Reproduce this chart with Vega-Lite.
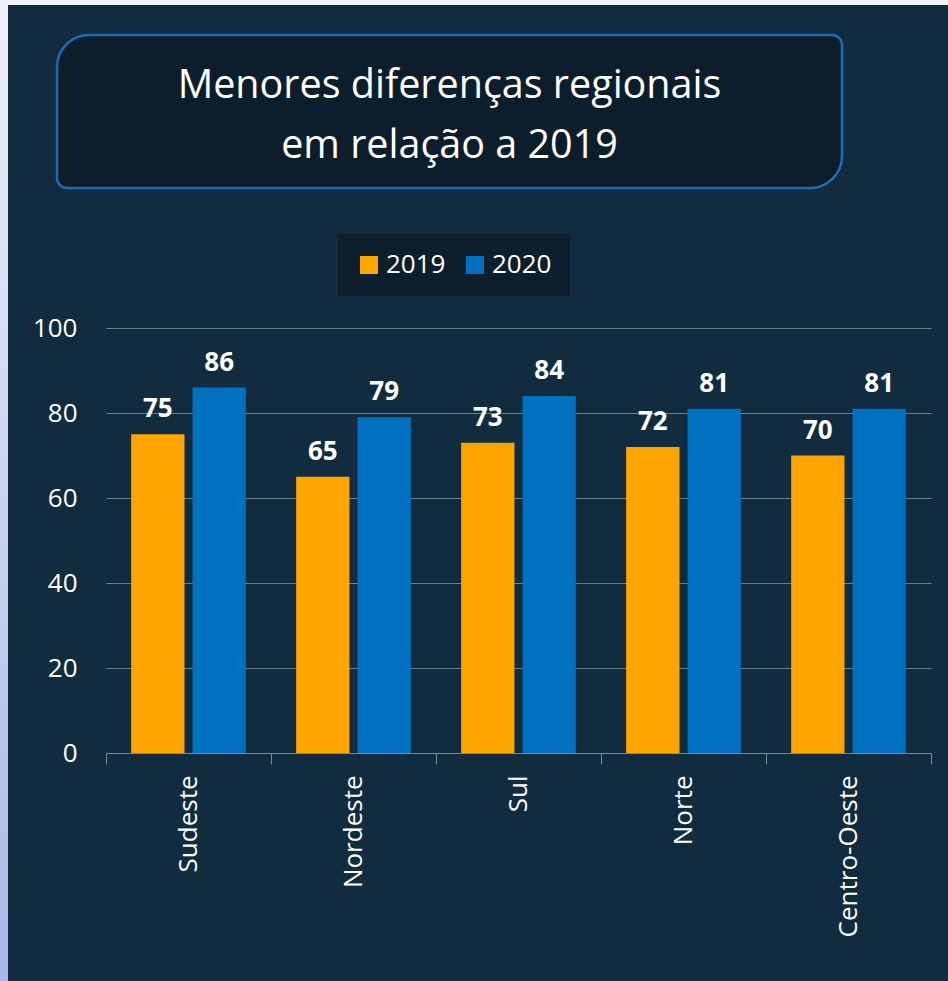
{
  "$schema": "https://vega.github.io/schema/vega-lite/v6.json",
  "width": 825,
  "height": 425,
  "autosize": {"type": "none"},
  "padding": {"left": 106, "top": 328, "right": 17, "bottom": 228},
  "background": "#112c3f",
  "title": {
    "text": ["Menores diferenças regionais", "em relação a 2019"],
    "fontSize": 39.5,
    "font": "Open Sans",
    "fontWeight": "normal",
    "color": "#ffffff",
    "anchor": "middle",
    "frame": "group",
    "dx": -69,
    "lineHeight": 60,
    "offset": -166
  },
  "data": {
    "values": [
      {"region": "Sudeste", "year": "2019", "value": 75},
      {"region": "Sudeste", "year": "2020", "value": 86},
      {"region": "Nordeste", "year": "2019", "value": 65},
      {"region": "Nordeste", "year": "2020", "value": 79},
      {"region": "Sul", "year": "2019", "value": 73},
      {"region": "Sul", "year": "2020", "value": 84},
      {"region": "Norte", "year": "2019", "value": 72},
      {"region": "Norte", "year": "2020", "value": 81},
      {"region": "Centro-Oeste", "year": "2019", "value": 70},
      {"region": "Centro-Oeste", "year": "2020", "value": 81}
    ]
  },
  "layer": [
    {
      "data": {"values": [{}]},
      "mark": {"type": "rect", "fill": "#f1f3f9"},
      "encoding": {
        "x": {"value": -106}, "x2": {"value": 842},
        "y": {"value": -328}, "y2": {"value": -323}
      }
    },
    {
      "data": {"values": [{}]},
      "mark": {"type": "rect", "fill": {"gradient": "linear", "x1": 0, "y1": 0, "x2": 0, "y2": 1, "stops": [{"offset": 0, "color": "#eef0f9"}, {"offset": 1, "color": "#a8b9e5"}]}},
      "encoding": {
        "x": {"value": -106}, "x2": {"value": -98},
        "y": {"value": -328}, "y2": {"value": 653}
      }
    },
    {
      "data": {"values": [{}]},
      "mark": {"type": "rect", "fill": "#0c1e2b", "stroke": "#1e6db3", "strokeWidth": 2.5,
        "cornerRadiusTopLeft": 32, "cornerRadiusBottomRight": 32, "cornerRadiusTopRight": 10, "cornerRadiusBottomLeft": 10},
      "encoding": {
        "x": {"value": -49}, "x2": {"value": 736},
        "y": {"value": -293}, "y2": {"value": -140}
      }
    },
    {
      "mark": {"type": "bar"},
      "encoding": {
        "x": {
          "field": "region", "type": "nominal",
          "sort": ["Sudeste", "Nordeste", "Sul", "Norte", "Centro-Oeste"],
          "scale": {"paddingInner": 0, "paddingOuter": 0},
          "axis": {
            "title": null, "labelAngle": 270, "labelFontSize": 26, "labelFont": "Open Sans",
            "labelColor": "#ffffff", "domainColor": "#7d8a95", "tickColor": "#7d8a95",
            "tickSize": 11, "tickBand": "extent", "labelPadding": 11, "grid": false
          }
        },
        "xOffset": {
          "field": "year", "type": "nominal",
          "scale": {"paddingInner": 0.131, "paddingOuter": 0.41}
        },
        "y": {
          "field": "value", "type": "quantitative",
          "scale": {"domain": [0, 100], "nice": false},
          "axis": {
            "title": null, "values": [0, 20, 40, 60, 80, 100], "domain": false, "ticks": false,
            "labelFontSize": 26, "labelFont": "Open Sans", "labelColor": "#ffffff",
            "labelPadding": 29, "gridColor": "#6e7b86", "gridWidth": 1
          }
        },
        "color": {
          "field": "year", "type": "nominal",
          "scale": {"domain": ["2019", "2020"], "range": ["#FFA500", "#0070C0"]},
          "legend": {
            "title": null, "orient": "none", "legendX": 232, "legendY": -94,
            "direction": "horizontal", "fillColor": "#0d1f2c", "padding": 18,
            "symbolType": "square", "symbolSize": 324, "symbolStrokeWidth": 0, "symbolOpacity": 1,
            "labelFontSize": 26, "labelFont": "Open Sans", "labelColor": "#ffffff",
            "labelOffset": 4, "columnPadding": 16
          }
        }
      }
    },
    {
      "mark": {"type": "text", "fontSize": 26, "font": "Open Sans", "fontWeight": "bold", "color": "#ffffff", "baseline": "alphabetic", "dy": -17},
      "encoding": {
        "x": {"field": "region", "type": "nominal", "sort": ["Sudeste", "Nordeste", "Sul", "Norte", "Centro-Oeste"]},
        "xOffset": {"field": "year", "type": "nominal"},
        "y": {"field": "value", "type": "quantitative"},
        "text": {"field": "value", "type": "quantitative"}
      }
    }
  ],
  "config": {"view": {"stroke": null}}
}
